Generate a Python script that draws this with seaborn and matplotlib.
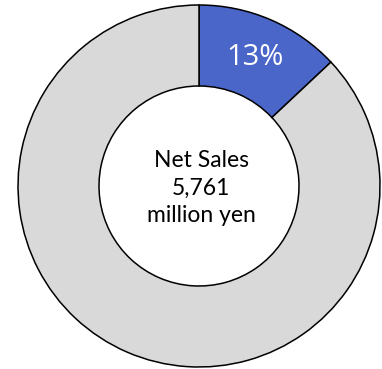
import matplotlib
matplotlib.use("Agg")
import matplotlib.pyplot as plt
import seaborn as sns

sns.set_theme(style="white")
plt.rcParams['font.family'] = ['Lato', 'DejaVu Sans']

categories = ["Segment", "Other"]
shares = [13, 87]
colors = ["#4A66C8", "#D9D9D9"]
center_lines = ["Net Sales", "5,761", "million yen"]

fig = plt.figure(figsize=(3.82, 3.69), dpi=100)
ax = fig.add_axes([0, 0, 1, 1])

R = 181
inner = 100
wedges, texts, autotexts = ax.pie(
    shares, colors=colors, radius=R, startangle=90, counterclock=False,
    wedgeprops=dict(width=R - inner, edgecolor="black", linewidth=1.1),
    autopct=lambda p: f"{p:.0f}%" if p < 50 else "",
    pctdistance=(R + inner) / 2 / R,
    textprops=dict(color="white", fontsize=21, family=["Open Sans", "DejaVu Sans"]),
)
ax.text(2, -2, "\n".join(center_lines), ha="center", va="center",
        fontsize=16.5, color="black", linespacing=1.38)

ax.set_xlim(-199, 183)
ax.set_ylim(-183, 186)
ax.set_aspect("equal", adjustable="datalim")
ax.axis("off")
fig.savefig("out.png", dpi=100, facecolor="white")
